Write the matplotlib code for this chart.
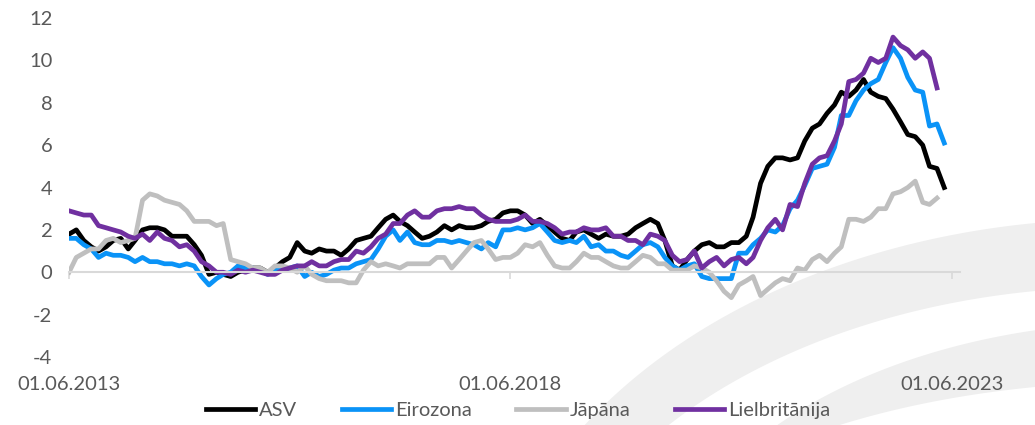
import matplotlib
matplotlib.use("Agg")
import matplotlib.pyplot as plt
import numpy as np
import pandas as pd

# monthly y/y inflation, %, from 06.2013
asv = [1.8, 2.0, 1.5, 1.2, 1.0, 1.2, 1.5,
       1.6, 1.1, 1.5, 2.0, 2.1, 2.1, 2.0, 1.7, 1.7, 1.7, 1.3, 0.8,
       -0.1, 0.0, -0.1, -0.2, 0.0, 0.1, 0.2, 0.2, 0.0, 0.2, 0.5, 0.7,
       1.4, 1.0, 0.9, 1.1, 1.0, 1.0, 0.8, 1.1, 1.5, 1.6, 1.7, 2.1,
       2.5, 2.7, 2.4, 2.2, 1.9, 1.6, 1.7, 1.9, 2.2, 2.0, 2.2, 2.1,
       2.1, 2.2, 2.4, 2.5, 2.8, 2.9, 2.9, 2.7, 2.3, 2.5, 2.2, 1.9,
       1.6, 1.5, 1.9, 2.0, 1.8, 1.6, 1.8, 1.7, 1.7, 1.8, 2.1, 2.3,
       2.5, 2.3, 1.5, 0.3, 0.1, 0.6, 1.0, 1.3, 1.4, 1.2, 1.2, 1.4,
       1.4, 1.7, 2.6, 4.2, 5.0, 5.4, 5.4, 5.3, 5.4, 6.2, 6.8, 7.0,
       7.5, 7.9, 8.5, 8.3, 8.6, 9.1, 8.5, 8.3, 8.2, 7.7, 7.1, 6.5,
       6.4, 6.0, 5.0, 4.9, 4.0]

eirozona = [1.6, 1.6, 1.3, 1.1, 0.7, 0.9, 0.8,
            0.8, 0.7, 0.5, 0.7, 0.5, 0.5, 0.4, 0.4, 0.3, 0.4, 0.3, -0.2,
            -0.6, -0.3, -0.1, 0.0, 0.3, 0.2, 0.2, 0.1, -0.1, 0.1, 0.1, 0.2,
            0.3, -0.2, 0.0, -0.2, -0.1, 0.1, 0.2, 0.2, 0.4, 0.5, 0.6, 1.1,
            1.7, 2.0, 1.5, 1.9, 1.4, 1.3, 1.3, 1.5, 1.5, 1.4, 1.5, 1.4,
            1.3, 1.1, 1.4, 1.2, 2.0, 2.0, 2.1, 2.0, 2.1, 2.3, 1.9, 1.5,
            1.4, 1.5, 1.4, 1.7, 1.2, 1.3, 1.0, 1.0, 0.8, 0.7, 1.0, 1.3,
            1.4, 1.2, 0.7, 0.3, 0.1, 0.3, 0.4, -0.2, -0.3, -0.3, -0.3, -0.3,
            0.9, 0.9, 1.3, 1.6, 2.0, 1.9, 2.2, 3.0, 3.4, 4.1, 4.9, 5.0,
            5.1, 5.9, 7.4, 7.4, 8.1, 8.6, 8.9, 9.1, 9.9, 10.6, 10.1, 9.2,
            8.6, 8.5, 6.9, 7.0, 6.1]

japana = [0.0, 0.7, 0.9, 1.1, 1.1, 1.5, 1.6,
          1.4, 1.5, 1.6, 3.4, 3.7, 3.6, 3.4, 3.3, 3.2, 2.9, 2.4, 2.4,
          2.4, 2.2, 2.3, 0.6, 0.5, 0.4, 0.2, 0.2, 0.0, 0.3, 0.3, 0.2,
          0.0, 0.3, -0.1, -0.3, -0.4, -0.4, -0.4, -0.5, -0.5, 0.1, 0.5, 0.3,
          0.4, 0.3, 0.2, 0.4, 0.4, 0.4, 0.4, 0.7, 0.7, 0.2, 0.6, 1.0,
          1.4, 1.5, 1.1, 0.6, 0.7, 0.7, 0.9, 1.3, 1.2, 1.4, 0.8, 0.3,
          0.2, 0.2, 0.5, 0.9, 0.7, 0.7, 0.5, 0.3, 0.2, 0.2, 0.5, 0.8,
          0.7, 0.4, 0.4, 0.1, 0.1, 0.1, 0.3, 0.2, 0.0, -0.4, -0.9, -1.2,
          -0.6, -0.4, -0.2, -1.1, -0.8, -0.5, -0.3, -0.4, 0.2, 0.1, 0.6, 0.8,
          0.5, 0.9, 1.2, 2.5, 2.5, 2.4, 2.6, 3.0, 3.0, 3.7, 3.8, 4.0,
          4.3, 3.3, 3.2, 3.5]

lielbritanija = [2.9, 2.8, 2.7, 2.7, 2.2, 2.1, 2.0,
                 1.9, 1.7, 1.6, 1.8, 1.5, 1.9, 1.6, 1.5, 1.2, 1.3, 1.0, 0.5,
                 0.3, 0.0, 0.0, -0.1, 0.1, 0.0, 0.1, 0.0, -0.1, -0.1, 0.1, 0.2,
                 0.3, 0.3, 0.5, 0.3, 0.3, 0.5, 0.6, 0.6, 1.0, 0.9, 1.2, 1.6,
                 1.8, 2.3, 2.3, 2.7, 2.9, 2.6, 2.6, 2.9, 3.0, 3.0, 3.1, 3.0,
                 3.0, 2.7, 2.5, 2.4, 2.4, 2.4, 2.5, 2.7, 2.4, 2.4, 2.3, 2.1,
                 1.8, 1.9, 1.9, 2.1, 2.0, 2.0, 2.1, 1.7, 1.7, 1.5, 1.5, 1.3,
                 1.8, 1.7, 1.5, 0.8, 0.5, 0.6, 1.0, 0.2, 0.5, 0.7, 0.3, 0.6,
                 0.7, 0.4, 0.7, 1.5, 2.1, 2.5, 2.0, 3.2, 3.1, 4.2, 5.1, 5.4,
                 5.5, 6.2, 7.0, 9.0, 9.1, 9.4, 10.1, 9.9, 10.1, 11.1, 10.7, 10.5,
                 10.1, 10.4, 10.1, 8.7]

series = [("ASV", asv, "#000000"),
          ("Eirozona", eirozona, "#0A93F7"),
          ("Jāpāna", japana, "#BFBFBF"),
          ("Lielbritānija", lielbritanija, "#7030A0")]

tick_dates = ["2013-06-01", "2018-06-01", "2023-06-01"]
tick_labels = ["01.06.2013", "01.06.2018", "01.06.2023"]

plt.rcParams['font.family'] = ['Lato', 'DejaVu Sans']
plt.rcParams['axes.unicode_minus'] = False
txt = "#595959"
fs = 14.5

fig = plt.figure(figsize=(10.35, 4.25), dpi=100)

# faint background swoosh (logo watermark), pixel coords with y up
bg = fig.add_axes([0, 0, 1, 1], zorder=0)
bg.set_xlim(0, 1035)
bg.set_ylim(0, 425)
bg.axis("off")
t = np.linspace(0, np.pi, 400)

def crescent(cx, cy, a1, b1, a2, b2):
    x1, y1 = cx + a1 * np.cos(t), cy + b1 * np.sin(t)
    x2, y2 = cx + a2 * np.cos(t[::-1]), cy + b2 * np.sin(t[::-1])
    bg.fill(np.r_[x1, x2], np.r_[y1, y2], color="#efefef", lw=0)

crescent(1120, -250, 640, 456, 590, 388)
crescent(1150, -200, 496, 303, 544, 243.5)

ax = fig.add_axes([0.0667, 0.16, 0.8608, 0.7976], zorder=1)
ax.patch.set_alpha(0)

for name, vals, col in series:
    dates = pd.date_range("2013-06-01", periods=len(vals), freq="MS")
    ax.plot(dates, vals, color=col, lw=3.4, label=name)

ax.set_ylim(-4, 12)
ax.set_yticks(range(-4, 13, 2))
ax.set_xlim(pd.Timestamp("2013-06-01"), pd.Timestamp("2023-07-05"))
ax.set_xticks([pd.Timestamp(d) for d in tick_dates])
ax.set_xticklabels(tick_labels)

for s in ["top", "right", "left"]:
    ax.spines[s].set_visible(False)
ax.spines["bottom"].set_position(("data", 0))
ax.spines["bottom"].set_color("#d9d9d9")
ax.spines["bottom"].set_linewidth(1.5)

ax.tick_params(axis="y", length=0, pad=12, labelsize=fs, labelcolor=txt)
ax.tick_params(axis="x", length=5, width=1.2, color="#d9d9d9", direction="out",
               pad=70, labelsize=fs, labelcolor=txt)

ax.legend(loc="center", bbox_to_anchor=(0.504, -0.157), ncol=4, frameon=False,
          fontsize=fs, labelcolor=txt, handlelength=2.45, handletextpad=0.2,
          columnspacing=2.2, borderpad=0.2)

fig.savefig("out.png", dpi=100)
